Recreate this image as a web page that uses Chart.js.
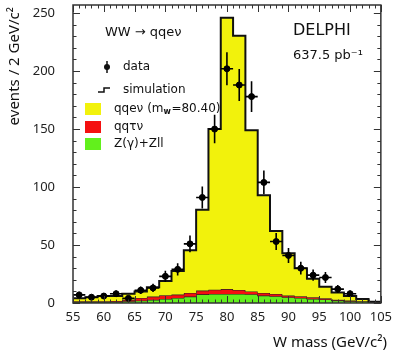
<!DOCTYPE html>
<html>
<head>
<meta charset="utf-8">
<script src="https://cdn.jsdelivr.net/npm/chart.js@4.4.1/dist/chart.umd.min.js"></script>
<style>
  body { margin: 0; background: #fff; }
  #wrap { width: 398px; height: 353px; }
</style>
</head>
<body>
<div id="wrap"><canvas id="wmass"></canvas></div>
<script>
// bin centres, 2 GeV/c2 wide bins
const massBins = [56, 58, 60, 62, 64, 66, 68, 70, 72, 74, 76, 78, 80, 82, 84, 86, 88, 90, 92, 94, 96, 98, 100, 102, 104];
// data (events per bin), no point drawn for the last two bins
const dataEvents = [7, 5, 6, 8, 4, 11, 13, 23, 29, 51, 91, 150, 202, 188, 178, 104, 53, 41, 30, 24, 22, 12, 8, null, null];
// simulation components
const simQqenu = [2.5, 3.5, 4.5, 4.2, 5.3, 5.6, 8.0, 12.3, 20.2, 36.8, 69.8, 138.5, 234, 219.2, 139, 84.3, 54.2, 36.6, 24.2, 16, 9.9, 6.3, 3.9, 2.0, 0.2];
const simQqtaunu = [0.7, 0.7, 0.7, 0.8, 1.2, 2.4, 2.8, 3.2, 2.9, 3.2, 3.2, 3.7, 4.2, 3.5, 2.4, 2.3, 2.0, 1.4, 1.4, 1.4, 1.1, 0.6, 0.6, 0.3, 0.1];
const simZgamma = [0.8, 0.8, 0.8, 1.0, 1.5, 2.0, 2.7, 3.5, 4.4, 5.5, 7.5, 7.8, 7.8, 7.8, 7.6, 6.4, 5.8, 5.0, 4.4, 3.6, 3.0, 2.1, 1.5, 1.2, 0.7];
const xTicks = [55, 60, 65, 70, 75, 80, 85, 90, 95, 100, 105];
const yTicks = [0, 50, 100, 150, 200, 250];

const YELLOW = '#f2f20c';
const RED = '#f41010';
const GREEN = '#62f01c';

// cumulative tops for the stack
const greenTop = simZgamma.slice();
const redTop = greenTop.map((v, i) => v + simQqtaunu[i]);
const totalTop = redTop.map((v, i) => v + simQqenu[i]);

// histogram as a stepped line through the bin edges
function stepPoints(vals) {
    let pts = massBins.map((c, i) => ({ x: c - 1, y: vals[i] }));
    pts.push({ x: massBins[massBins.length - 1] + 1, y: vals[vals.length - 1] });
    return pts;
}

const dataPoints = [];
massBins.forEach((c, i) => {
    if (dataEvents[i] !== null) dataPoints.push({ x: c, y: dataEvents[i] });
});

const delphiPlugin = {
    id: 'delphi',
    afterDatasetsDraw(chart) {
        const ctx = chart.ctx;
        const xs = chart.scales.x, ys = chart.scales.y;
        const a = chart.chartArea;

        // error bars: sqrt(N) vertically, bin width horizontally
        ctx.save();
        ctx.strokeStyle = '#000';
        ctx.lineWidth = 1.6;
        massBins.forEach((c, i) => {
            const v = dataEvents[i];
            if (v === null) return;
            const e = Math.sqrt(v);
            const px = xs.getPixelForValue(c), py = ys.getPixelForValue(v);
            ctx.beginPath();
            ctx.moveTo(px, ys.getPixelForValue(Math.max(v - e, 0)));
            ctx.lineTo(px, ys.getPixelForValue(v + e));
            ctx.moveTo(xs.getPixelForValue(c - 1), py);
            ctx.lineTo(xs.getPixelForValue(c + 1), py);
            ctx.stroke();
        });

        // frame + inward ticks
        ctx.strokeStyle = '#333';
        ctx.lineWidth = 1;
        ctx.beginPath();
        for (let v = 55; v <= 105; v++) {
            const len = v % 5 === 0 ? 7 : 3.5;
            const px = Math.round(xs.getPixelForValue(v)) + 0.5;
            ctx.moveTo(px, a.bottom); ctx.lineTo(px, a.bottom - len);
            ctx.moveTo(px, a.top); ctx.lineTo(px, a.top + len);
        }
        for (let v = 0; v <= 250; v += 10) {
            const len = v % 50 === 0 ? 7 : 3.5;
            const py = Math.round(ys.getPixelForValue(v)) + 0.5;
            ctx.moveTo(a.left, py); ctx.lineTo(a.left + len, py);
            ctx.moveTo(a.right, py); ctx.lineTo(a.right - len, py);
        }
        ctx.stroke();
        ctx.lineWidth = 1.5;
        ctx.strokeRect(a.left, a.top, a.right - a.left, a.bottom - a.top);
        ctx.restore();
    },
    afterDraw(chart) {
        const ctx = chart.ctx;
        ctx.save();
        ctx.fillStyle = '#111';
        ctx.textBaseline = 'middle';

        // axis titles
        ctx.font = '15px "Noto Sans"';
        ctx.textAlign = 'right';
        ctx.fillText('W mass (GeV/c²)', 387, 343);
        ctx.save();
        ctx.translate(15, 7);
        ctx.rotate(-Math.PI / 2);
        ctx.fillText('events / 2 GeV/c²', 0, 0);
        ctx.restore();

        // legend
        ctx.textAlign = 'left';
        ctx.font = '13px "DejaVu Sans"';
        ctx.fillText('WW → qqeν', 105, 33);
        ctx.font = '12px "DejaVu Sans"';

        ctx.strokeStyle = '#111';
        ctx.lineWidth = 1.5;
        ctx.beginPath();
        ctx.moveTo(107, 61); ctx.lineTo(107, 73);
        ctx.stroke();
        ctx.beginPath();
        ctx.arc(107, 67, 3, 0, Math.PI * 2);
        ctx.fill();
        ctx.fillText('data', 123, 67);

        ctx.beginPath();
        ctx.moveTo(98, 92); ctx.lineTo(104, 92); ctx.lineTo(104, 88); ctx.lineTo(110, 88);
        ctx.stroke();
        ctx.fillText('simulation', 123, 90);

        ctx.fillStyle = YELLOW; ctx.fillRect(85, 103, 16, 12);
        ctx.fillStyle = RED; ctx.fillRect(85, 121, 16, 12);
        ctx.fillStyle = GREEN; ctx.fillRect(85, 138, 16, 12);
        ctx.fillStyle = '#111';
        const t1 = 'qqeν (m';
        ctx.fillText(t1, 114, 109);
        let w1 = ctx.measureText(t1).width;
        ctx.font = 'bold 8px "DejaVu Sans"';
        ctx.fillText('w', 114 + w1, 112);
        let w2 = ctx.measureText('w').width;
        ctx.font = '12px "DejaVu Sans"';
        ctx.fillText('=80.40)', 114 + w1 + w2 + 0.5, 109);
        ctx.fillText('qqτν', 114, 127);
        ctx.fillText('Z(γ)+Zll', 114, 144);

        // experiment label
        ctx.font = '16px "DejaVu Sans"';
        ctx.fillText('DELPHI', 293, 31);
        ctx.font = '13px "DejaVu Sans"';
        ctx.fillText('637.5 pb⁻¹', 293, 56);
        ctx.restore();
    }
};

const tickFont = { family: 'Noto Sans', size: 13 };

new Chart(document.getElementById('wmass'), {
    type: 'line',
    data: {
        datasets: [
            {
                label: 'data',
                data: dataPoints,
                showLine: false,
                pointRadius: 3,
                pointBackgroundColor: '#000',
                pointBorderColor: '#000',
                order: 0
            },
            {
                label: 'qqenu',
                data: stepPoints(totalTop),
                stepped: 'before',
                borderColor: '#111',
                borderWidth: 2,
                backgroundColor: YELLOW,
                fill: 2,
                pointRadius: 0,
                order: 1
            },
            {
                label: 'qqtaunu',
                data: stepPoints(redTop),
                stepped: 'before',
                borderColor: '#222',
                borderWidth: 1.2,
                backgroundColor: RED,
                fill: 3,
                pointRadius: 0,
                order: 2
            },
            {
                label: 'Z(gamma)+Zll',
                data: stepPoints(greenTop),
                stepped: 'before',
                borderColor: '#222',
                borderWidth: 1.2,
                backgroundColor: GREEN,
                fill: 'origin',
                pointRadius: 0,
                order: 3
            }
        ]
    },
    options: {
        responsive: true,
        maintainAspectRatio: false,
        animation: false,
        layout: { padding: { top: 1, right: 11, left: 0, bottom: 0 } },
        plugins: {
            legend: { display: false },
            tooltip: { enabled: false }
        },
        scales: {
            x: {
                type: 'linear',
                min: 55,
                max: 105,
                grid: { display: false, drawTicks: false },
                border: { display: false },
                afterBuildTicks: (axis) => { axis.ticks = xTicks.map(v => ({ value: v })); },
                afterFit: (axis) => { axis.height = 50; },
                ticks: { font: tickFont, color: '#222', padding: 6, maxRotation: 0, autoSkip: false }
            },
            y: {
                min: 0,
                max: 257,
                grid: { display: false, drawTicks: false },
                border: { display: false },
                afterBuildTicks: (axis) => { axis.ticks = yTicks.map(v => ({ value: v })); },
                afterFit: (axis) => { axis.width = 73; axis.paddingTop = 0; axis.paddingBottom = 0; },
                ticks: { font: tickFont, color: '#222', padding: 18 }
            }
        }
    },
    plugins: [delphiPlugin]
});
</script>
</body>
</html>
